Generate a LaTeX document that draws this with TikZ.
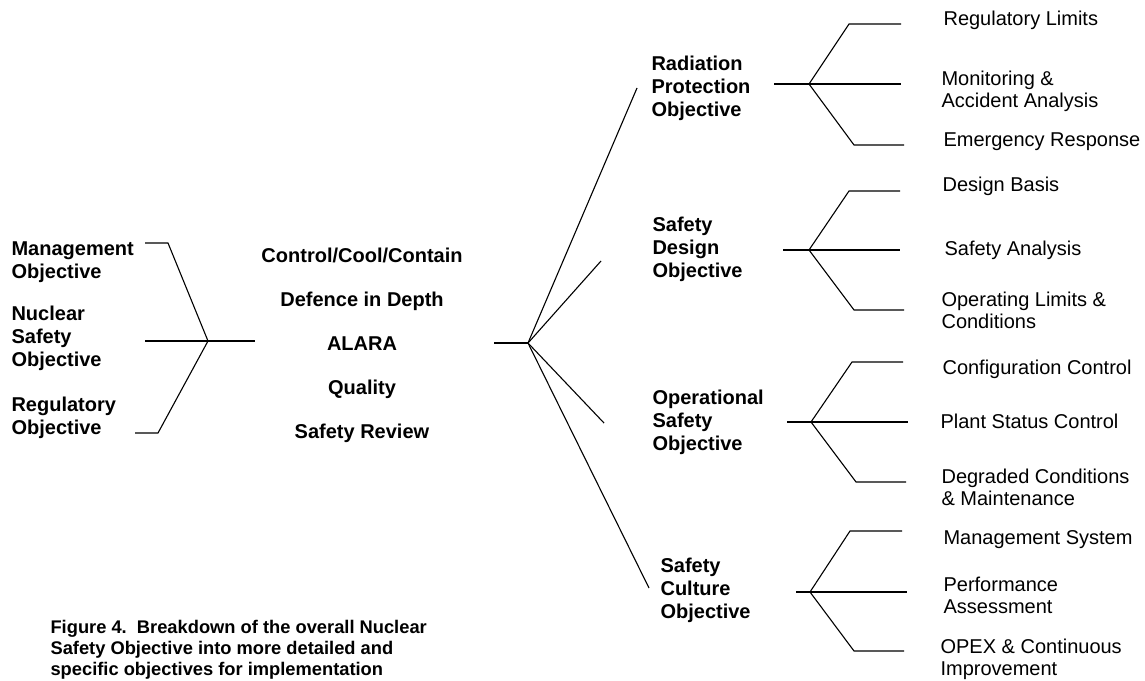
\documentclass[tikz,border=0pt]{standalone}
\usepackage{fontspec}
\setmainfont{Liberation Sans}
\begin{document}
\begin{tikzpicture}[x=1pt,y=-1pt,line width=1.1pt,line cap=butt,
  % multi-line nodes are placed by the baseline of their last line
  txt/.style={inner sep=0pt,anchor=base west,align=left,
    font=\fontsize{20}{22}\selectfont},
  btxt/.style={txt,font=\fontsize{20}{23}\selectfont\bfseries},
  ctxt/.style={inner sep=0pt,anchor=base,font=\fontsize{20}{23}\selectfont\bfseries}]
\useasboundingbox (0,0) rectangle (1145,680);

% left column: the three top-level objectives
\node[btxt] (mgmt) at (11,278) {Management\\Objective};
\node[btxt] (nso)  at (11,366) {Nuclear\\Safety\\Objective};
\node[btxt] (reg)  at (11,434) {Regulatory\\Objective};

% left bracket joining them
\coordinate (lt0) at (145,243);
\coordinate (lt1) at (168,243);
\coordinate (lap) at (208,341);
\coordinate (lm0) at (145,341);
\coordinate (lm1) at (255,341);
\coordinate (lb0) at (135,433);
\coordinate (lb1) at (158,433);
\draw (lt0) -- (lt1) -- (lap) -- (lb1) -- (lb0);
\draw (lm0) -- (lm1);

% central principles
\node[ctxt] (ccc)   at (362,262) {Control/Cool/Contain};
\node[ctxt] (did)   at (362,306) {Defence in Depth};
\node[ctxt] (alara) at (362,350) {ALARA};
\node[ctxt] (qual)  at (362,394) {Quality};
\node[ctxt] (srev)  at (362,438) {Safety Review};

% hub fanning out to the four objectives
\coordinate (hub0) at (494,343);
\coordinate (hub)  at (528,343);
\coordinate (f1) at (637,88);
\coordinate (f2) at (601,261);
\coordinate (f3) at (604,423);
\coordinate (f4) at (649,588);
\draw (hub0) -- (hub);
\foreach \f in {f1,f2,f3,f4} \draw (hub) -- (\f);

% second-level objectives
\node[btxt] (rpo) at (651,116) {Radiation\\Protection\\Objective};
\node[btxt] (sdo) at (652,277) {Safety\\Design\\Objective};
\node[btxt] (oso) at (652,450) {Operational\\Safety\\Objective};
\node[btxt] (sco) at (660,618) {Safety\\Culture\\Objective};

% three-way brackets leading to the detailed items
\foreach \n/\s/\ax/\ay/\tx/\ty/\te/\me/\bx/\by/\be in {
  rp/774/809/84/849/24/901/901/854/145/904,
  sd/783/809/250/849/191/900/900/854/310/904,
  os/787/811/422/852/362/903/908/856/482/906,
  sc/796/810/592/850/531/902/907/854/651/904} {
  \coordinate (\n-s)  at (\s,\ay);
  \coordinate (\n-a)  at (\ax,\ay);
  \coordinate (\n-t)  at (\tx,\ty);
  \coordinate (\n-te) at (\te,\ty);
  \coordinate (\n-me) at (\me,\ay);
  \coordinate (\n-b)  at (\bx,\by);
  \coordinate (\n-be) at (\be,\by);
  \draw (\n-s) -- (\n-me);
  \draw (\n-te) -- (\n-t) -- (\n-a) -- (\n-b) -- (\n-be);
}

% detailed items
\node[txt] (rl)  at (943,25)    {Regulatory Limits};
\node[txt] (maa) at (941,107.5) {Monitoring \&\\Accident Analysis};
\node[txt] (er)  at (943,146)   {Emergency Response};
\node[txt] (db)  at (942,191)   {Design Basis};
\node[txt] (sa)  at (944,255)   {Safety Analysis};
\node[txt] (olc) at (941,328)   {Operating Limits \&\\Conditions};
\node[txt] (cc)  at (942,374)   {Configuration Control};
\node[txt] (psc) at (940,428)   {Plant Status Control};
\node[txt] (dcm) at (941,505)   {Degraded Conditions\\\& Maintenance};
\node[txt] (ms)  at (943,544)   {Management System};
\node[txt] (pa)  at (943,613)   {Performance\\Assessment};
\node[txt] (oci) at (940,675)   {OPEX \& Continuous\\Improvement};

% caption
\node[inner sep=0pt,anchor=base west,align=left,
  font=\fontsize{18.3}{21.1}\selectfont\bfseries] (cap) at (50,675.5)
  {Figure 4.\ \ Breakdown of the overall Nuclear\\Safety Objective into more detailed and\\specific objectives for implementation};
\end{tikzpicture}
\end{document}
